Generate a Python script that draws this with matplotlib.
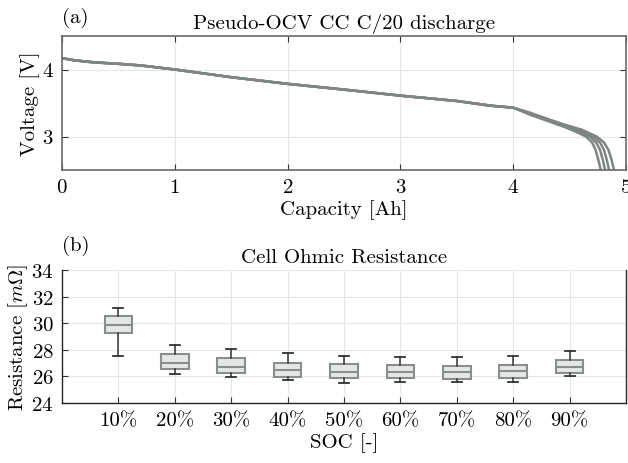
import matplotlib
matplotlib.use("Agg")
import matplotlib.pyplot as plt
import numpy as np

plt.rcParams['font.family'] = ['cmr10', 'DejaVu Serif']
plt.rcParams['mathtext.fontset'] = 'cm'
plt.rcParams['axes.unicode_minus'] = False
plt.rcParams['axes.formatter.use_mathtext'] = True

# ---- data: (a) pseudo-OCV discharge curves ----
cap_common = [0.0, 0.1, 0.2, 0.3, 0.5, 0.7, 1.0, 1.5, 2.0, 2.5, 3.0, 3.5, 3.8, 4.0]
v_common = [4.17, 4.14, 4.12, 4.105, 4.085, 4.06, 4.00, 3.885, 3.786, 3.70, 3.61, 3.53, 3.46, 3.43]

cap_tail_1 = [4.15, 4.3, 4.45, 4.55, 4.645, 4.70, 4.73, 4.755, 4.776]
v_tail_1 = [3.325, 3.235, 3.145, 3.075, 3.00, 2.91, 2.80, 2.65, 2.50]
cap_tail_2 = [4.15, 4.3, 4.45, 4.57, 4.68, 4.735, 4.77, 4.795, 4.814]
v_tail_2 = [3.335, 3.245, 3.16, 3.085, 3.00, 2.91, 2.80, 2.65, 2.50]
cap_tail_3 = [4.15, 4.3, 4.45, 4.59, 4.71, 4.77, 4.805, 4.83, 4.85]
v_tail_3 = [3.345, 3.255, 3.17, 3.095, 3.00, 2.91, 2.80, 2.65, 2.50]
cap_tail_4 = [4.15, 4.3, 4.45, 4.61, 4.74, 4.805, 4.845, 4.872, 4.894]
v_tail_4 = [3.355, 3.265, 3.18, 3.10, 3.00, 2.91, 2.80, 2.65, 2.50]

# ---- data: (b) ohmic resistance box statistics [mOhm] ----
soc_labels = ['10%', '20%', '30%', '40%', '50%', '60%', '70%', '80%', '90%']
r_whislo = [27.57, 26.21, 25.98, 25.73, 25.53, 25.56, 25.56, 25.61, 26.04]
r_q1 = [29.28, 26.56, 26.26, 25.98, 25.88, 25.86, 25.81, 25.88, 26.24]
r_med = [29.90, 27.04, 26.71, 26.51, 26.36, 26.36, 26.34, 26.41, 26.71]
r_q3 = [30.51, 27.67, 27.42, 27.04, 26.91, 26.84, 26.76, 26.86, 27.22]
r_whishi = [31.11, 28.35, 28.05, 27.74, 27.54, 27.47, 27.47, 27.52, 27.89]

FS = 15
W, H = 628, 464
fig = plt.figure(figsize=(W / 100, H / 100), dpi=100)

def px_axes(l, t, r, b):
    return fig.add_axes([l / W, 1 - b / H, (r - l) / W, (b - t) / H])

grid_c = '#e6e6e6'
line_c = '#7f8585'

# ---------------- (a) ----------------
ax1 = px_axes(62, 37, 626, 171)
tails = [(cap_tail_1, v_tail_1), (cap_tail_2, v_tail_2),
         (cap_tail_3, v_tail_3), (cap_tail_4, v_tail_4)]
for ct, vt in tails:
    ax1.plot(cap_common + ct, v_common + vt, color=line_c, lw=1.8,
             solid_joinstyle='round')
ax1.set_xlim(0, 5)
ax1.set_ylim(2.5, 4.5)
ax1.set_xticks([0, 1, 2, 3, 4, 5])
ax1.set_yticks([3, 4])
ax1.grid(True, color=grid_c, lw=0.8)
ax1.set_axisbelow(True)
for s in ax1.spines.values():
    s.set_color('#6a6a6a')
    s.set_linewidth(1.2)
ax1.tick_params(direction='in', top=True, right=True, length=4,
                color='#333333', labelsize=FS, pad=6)
ax1.set_xlabel('Capacity [Ah]', fontsize=FS, labelpad=2)
ax1.set_ylabel('Voltage [V]', fontsize=FS, labelpad=1)
ax1.set_title('Pseudo-OCV CC C/20 discharge', fontsize=FS, pad=6)
fig.text(62 / W, 1 - 18 / H, '(a)', fontsize=FS, ha='left', va='center')

# ---------------- (b) ----------------
ax2 = px_axes(62, 271, 626, 404)
stats = []
for i in range(len(soc_labels)):
    stats.append(dict(med=r_med[i], q1=r_q1[i], q3=r_q3[i],
                      whislo=r_whislo[i], whishi=r_whishi[i], fliers=[]))
positions = np.arange(1, len(soc_labels) + 1)
ax2.bxp(stats, positions=positions, widths=0.49, patch_artist=True,
        showfliers=False, capwidths=0.18,
        boxprops=dict(facecolor='#e5e6e6', edgecolor='#8a8d8d', lw=1.5),
        medianprops=dict(color='#8a8d8d', lw=1.5),
        whiskerprops=dict(color='#333333', lw=1.1),
        capprops=dict(color='#333333', lw=1.3))
ax2.set_xlim(0, 10)
ax2.set_ylim(24, 34)
ax2.set_xticks(positions)
ax2.set_xticklabels(soc_labels)
ax2.set_yticks([24, 26, 28, 30, 32, 34])
ax2.grid(True, color=grid_c, lw=0.8)
ax2.set_axisbelow(True)
ax2.spines['top'].set_visible(False)
for k in ['left', 'bottom', 'right']:
    ax2.spines[k].set_color('#262626')
    ax2.spines[k].set_linewidth(1.0)
ax2.tick_params(direction='in', length=4, color='#333333', labelsize=FS, pad=6)
ax2.set_xlabel('SOC [-]', fontsize=FS, labelpad=2)
ax2.set_ylabel(r'Resistance [$m\Omega$]', fontsize=FS, labelpad=1)
ax2.set_title('Cell Ohmic Resistance', fontsize=FS, pad=6)
fig.text(62 / W, 1 - 246 / H, '(b)', fontsize=FS, ha='left', va='center')

fig.savefig('out.png', dpi=100)
